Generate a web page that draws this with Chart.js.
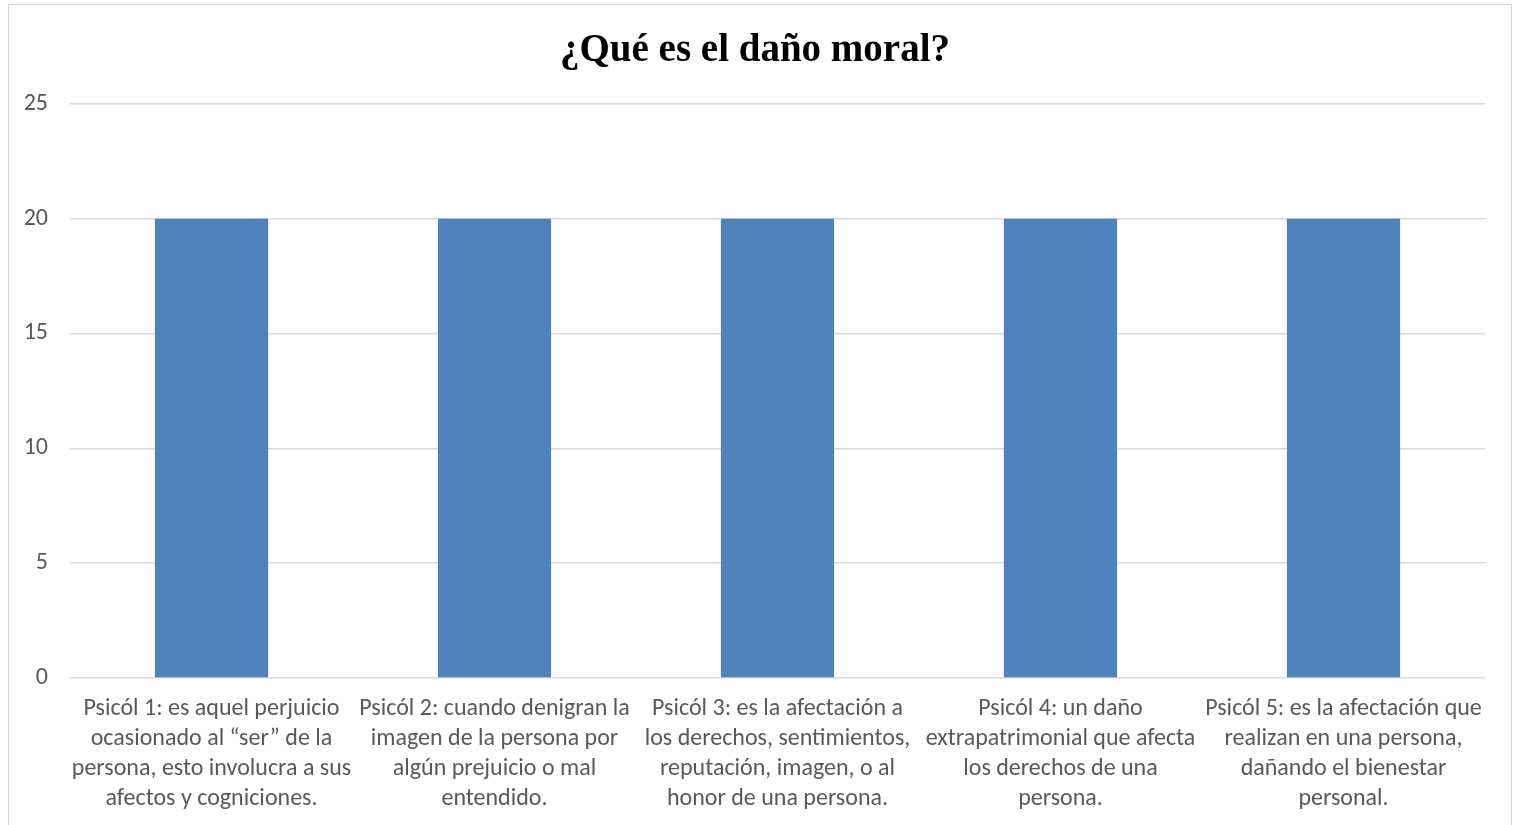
<!DOCTYPE html>
<html>
<head>
<meta charset="utf-8">
<script src="https://cdn.jsdelivr.net/npm/chart.js@4"></script>
<style>
    html, body { margin: 0; padding: 0; background: #fff; overflow: hidden; }
    #frame {
        position: absolute; left: 8px; top: 4px;
        width: 1504px; height: 840px;
        border: 1px solid #d9d9d9; box-sizing: border-box;
    }
    #wrap { position: absolute; left: 0; top: 0; width: 1502px; height: 825px; }
</style>
</head>
<body>
<div id="frame"><div id="wrap"><canvas id="dano-chart"></canvas></div></div>
<script>
const TITLE = "¿Qué es el daño moral?";
const CATEGORIES = [
    ["Psicól 1: es aquel perjuicio", "ocasionado al “ser” de la", "persona, esto involucra a sus", "afectos y cogniciones."],
    ["Psicól 2: cuando denigran la", "imagen de la persona por", "algún prejuicio o mal", "entendido."],
    ["Psicól 3: es la afectación a", "los derechos, sentimientos,", "reputación, imagen, o al", "honor de una persona."],
    ["Psicól 4: un daño", "extrapatrimonial que afecta", "los derechos de una", "persona."],
    ["Psicól 5: es la afectación que", "realizan en una persona,", "dañando el bienestar", "personal."],
];
const VALUES = [20, 20, 20, 20, 20];
const Y_MIN = 0;
const Y_MAX = 25;
const Y_STEP = 5;

const FONT = "Carlito, 'Liberation Sans Narrow', 'Open Sans', sans-serif";

const config = {
    type: 'bar',
    data: {
        labels: CATEGORIES,
        datasets: [
            {
                label: 'Serie 1',
                backgroundColor: '#4f81bd',
                data: VALUES,
                categoryPercentage: 1,
                barPercentage: 0.4,
            }
        ],
    },
    options: {
        responsive: true,
        maintainAspectRatio: false,
        animation: false,
        layout: {
            padding: { left: 16, right: 26, top: 10, bottom: 0 }
        },
        plugins: {
            legend: { display: false },
            tooltip: { enabled: false },
            title: {
                display: true,
                text: TITLE,
                color: '#000',
                font: { family: "'Liberation Serif', serif", size: 39, weight: 'bold' },
                padding: { top: 13, bottom: 29 },
            },
        },
        scales: {
            x: {
                grid: { display: false, drawTicks: false },
                border: { display: false },
                ticks: {
                    color: '#595959',
                    font: { family: FONT, size: 24, lineHeight: 1.25 },
                    maxRotation: 0,
                    autoSkip: false,
                    padding: 16,
                },
                // ラベルのはみ出し分で描画領域を縮めない
                afterFit: function(scale) {
                    scale.paddingLeft = 0;
                    scale.paddingRight = 0;
                },
            },
            y: {
                min: Y_MIN,
                max: Y_MAX,
                grid: { color: '#d9d9d9', lineWidth: 1.5, drawTicks: false },
                border: { display: false },
                ticks: {
                    stepSize: Y_STEP,
                    color: '#595959',
                    font: { family: FONT, size: 24 },
                    padding: 22,
                },
                afterFit: function(scale) {
                    scale.width = 45;
                },
            },
        },
    },
};

// 描画処理
const myChart = new Chart(document.getElementById("dano-chart"), config);
</script>
</body>
</html>
